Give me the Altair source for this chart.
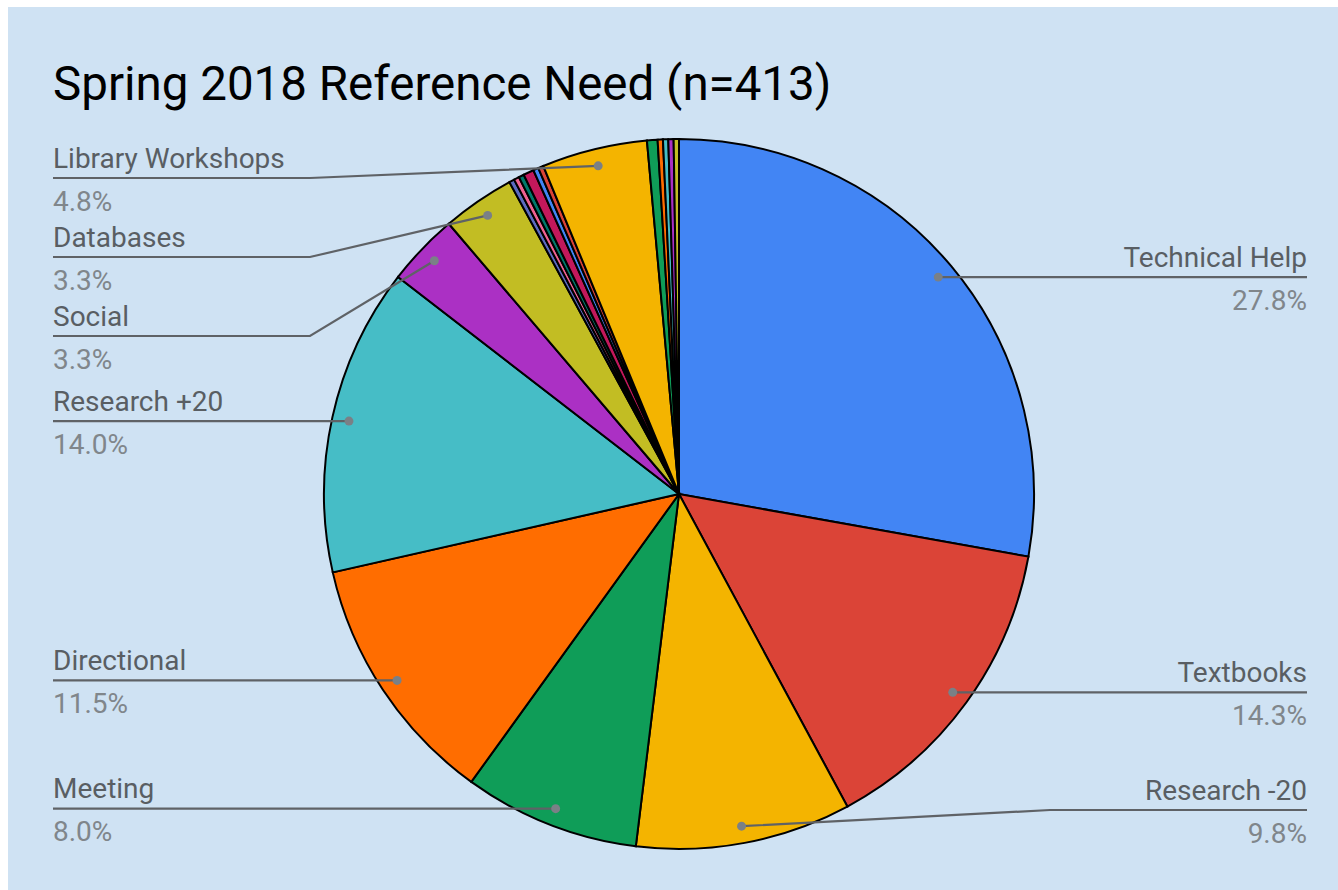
import math
import altair as alt
import pandas as pd

# ---------------- data ----------------
title_text = "Spring 2018 Reference Need (n=413)"
categories = [
    "Technical Help", "Textbooks", "Research -20", "Meeting", "Directional",
    "Research +20", "Social", "Databases",
    "Other 1", "Other 2", "Other 3", "Other 4", "Other 5", "Other 6",
    "Library Workshops",
    "Other 7", "Other 8", "Other 9", "Other 10", "Other 11",
]
percents = [
    27.8, 14.3, 9.8, 8.0, 11.5,
    14.0, 3.3, 3.3,
    0.24, 0.24, 0.24, 0.48, 0.24, 0.24,
    4.8,
    0.48, 0.24, 0.24, 0.24, 0.24,
]
labelled = ["Technical Help", "Textbooks", "Research -20", "Meeting", "Directional",
            "Research +20", "Social", "Databases", "Library Workshops"]

# ---------------- style / layout ----------------
colors = ["#4285F4", "#DB4437", "#F4B400", "#0F9D58", "#FF6D00", "#46BDC6", "#AB30C4", "#C2BD23",
          "#5C6BC0", "#F06292", "#00796B", "#C2185B",
          "#4285F4", "#DB4437", "#F4B400", "#0F9D58", "#FF6D00", "#46BDC6", "#AB30C4", "#C2BD23"]
BG = "#CFE2F3"
CX, CY = 679, 494
R = 355
DOT_R = 338
LEFT_X, RIGHT_X = 53, 1307
LEFT_ELBOW, RIGHT_ELBOW = 310, 1050
row_override = {"Library Workshops": 178, "Databases": 257, "Social": 336, "Research -20": 810}
FONT = "Roboto"
LABEL_SIZE = 28

# ---------------- derived tables ----------------
pie_df = pd.DataFrame({"cat": categories, "value": percents, "idx": list(range(len(categories)))})

total = sum(percents)
cum = 0.0
line_rows, text_rows, dot_rows = [], [], []
for c, v in zip(categories, percents):
    mid = (cum + v / 2) / total * 2 * math.pi
    cum += v
    if c not in labelled:
        continue
    dx, dy = CX + DOT_R * math.sin(mid), CY - DOT_R * math.cos(mid)
    side = "right" if math.sin(mid) > 0 else "left"
    edge = RIGHT_X if side == "right" else LEFT_X
    if c in row_override:
        ry = row_override[c]
        ex = RIGHT_ELBOW if side == "right" else LEFT_ELBOW
    else:
        ry = dy
        ex = dx
    line_rows += [
        {"cat": c, "pt": 0, "px": edge, "py": ry},
        {"cat": c, "pt": 1, "px": ex, "py": ry},
        {"cat": c, "pt": 2, "px": dx, "py": dy},
    ]
    dot_rows.append({"cat": c, "px": dx, "py": dy})
    text_rows.append({"cat": c, "side": side, "px": edge, "ny": ry - 10.5, "py": ry + 32.5,
                      "pct": f"{v:.1f}%"})

lines_df = pd.DataFrame(line_rows)
dots_df = pd.DataFrame(dot_rows)
text_df = pd.DataFrame(text_rows)

# ---------------- layers ----------------
bg = alt.Chart(pd.DataFrame({"a": [0]})).mark_rect(color=BG).encode(
    x=alt.value(8), x2=alt.value(1338), y=alt.value(7), y2=alt.value(890)
)

pie = alt.Chart(pie_df).mark_arc(radius=R, stroke="black", strokeWidth=2).encode(
    theta=alt.Theta("value:Q", stack=True),
    color=alt.Color("cat:N", scale=alt.Scale(domain=categories, range=colors), legend=None),
    order=alt.Order("idx:Q", sort="ascending"),
    x=alt.value(CX),
    y=alt.value(CY),
)

leaders = alt.Chart(lines_df).mark_line(color="#5f6266", strokeWidth=2.2).encode(
    x=alt.X("px:Q", scale=None),
    y=alt.Y("py:Q", scale=None),
    detail="cat:N",
    order="pt:Q",
)

dots = alt.Chart(dots_df).mark_circle(color="#7a8086", opacity=1, size=80).encode(
    x=alt.X("px:Q", scale=None),
    y=alt.Y("py:Q", scale=None),
)


def label_layers(side, align):
    base = alt.Chart(text_df).transform_filter(alt.datum.side == side)
    names = base.mark_text(align=align, baseline="alphabetic", font=FONT, fontSize=LABEL_SIZE,
                           color="#595e63").encode(
        x=alt.X("px:Q", scale=None), y=alt.Y("ny:Q", scale=None), text="cat:N")
    pcts = base.mark_text(align=align, baseline="alphabetic", font=FONT, fontSize=LABEL_SIZE,
                          color="#80868b").encode(
        x=alt.X("px:Q", scale=None), y=alt.Y("py:Q", scale=None), text="pct:N")
    return names + pcts


title = alt.Chart(pd.DataFrame({"t": [title_text]})).mark_text(
    align="left", baseline="alphabetic", font=FONT, fontSize=47.5, color="#000000"
).encode(x=alt.value(53), y=alt.value(100), text="t:N")

chart = alt.layer(
    bg, pie, leaders, dots, label_layers("left", "left"), label_layers("right", "right"), title
).properties(
    width=1338, height=890, padding=0, autosize="none", background="white"
).configure_view(stroke=None)

chart.save("out.html", embed_options={"renderer": "svg", "actions": False})
